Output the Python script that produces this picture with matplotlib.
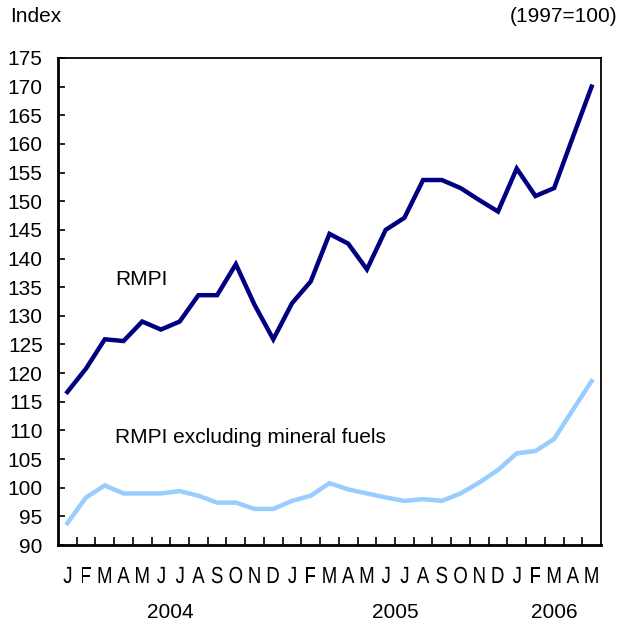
import matplotlib.pyplot as plt
import numpy as np
from matplotlib.textpath import TextPath
from matplotlib.patches import PathPatch
from matplotlib.font_manager import FontProperties
from matplotlib.transforms import Affine2D

plt.rcParams['font.family'] = ['Liberation Sans', 'DejaVu Sans']

months = ['J', 'F', 'M', 'A', 'M', 'J', 'J', 'A', 'S', 'O', 'N', 'D',
          'J', 'F', 'M', 'A', 'M', 'J', 'J', 'A', 'S', 'O', 'N', 'D',
          'J', 'F', 'M', 'A', 'M']
years = ['2004', '2005', '2006']
year_start = [0, 12, 24]
year_len = [12, 12, 5]

rmpi = [116.7, 120.8, 125.9, 125.6, 129.0, 127.6, 129.0, 133.6, 133.6, 139.0,
        131.9, 125.9, 132.2, 136.0, 144.3, 142.6, 138.1, 145.0, 147.1, 153.7,
        153.7, 152.3, 150.2, 148.2, 155.7, 150.9, 152.3, 161.2, 170.0]
rmpi_ex = [93.8, 98.3, 100.4, 99.0, 99.0, 99.0, 99.4, 98.6, 97.4, 97.4,
           96.3, 96.3, 97.7, 98.6, 100.8, 99.7, 99.0, 98.3, 97.7, 98.0,
           97.7, 99.0, 100.9, 103.1, 106.0, 106.4, 108.5, 113.6, 118.6]

fig = plt.figure(figsize=(6.22, 6.24), dpi=100)
ax = fig.add_axes([0.0932, 0.1266, 0.8730, 0.7805])

x = np.arange(len(months))
ax.plot(x, rmpi, color='#000080', lw=3.2, solid_joinstyle='miter')
ax.plot(x, rmpi_ex, color='#99ccff', lw=3.2, solid_joinstyle='miter')

ax.set_xlim(-0.5, len(months) - 0.5)
ax.set_ylim(90, 175)
ax.set_yticks(np.arange(90, 176, 5))
ax.tick_params(axis='y', direction='in', length=5, width=1.2, labelsize=15, pad=11)

# category boundaries as ticks
ax.set_xticks(np.arange(0.5, len(months) - 1, 1))
ax.set_xticklabels([])
ax.tick_params(axis='x', direction='in', length=6, width=1.2)

# month letters: narrow (horizontally squeezed) glyphs
prop = FontProperties(family='Liberation Sans')
ybase = fig.bbox.height - 575  # centre of letters, display px
for i, m in enumerate(months):
    tp = TextPath((0, 0), m, size=23.3, prop=prop)
    ext = tp.get_extents()
    cx = (ext.x0 + ext.x1) / 2
    cy = (ext.y0 + ext.y1) / 2
    px = ax.transData.transform((i, 90))[0]
    tr = Affine2D().translate(-cx, -cy).scale(0.8, 1).translate(px, ybase)
    fig.add_artist(PathPatch(tp, transform=tr, color='black', lw=0))

for y, s, n in zip(years, year_start, year_len):
    ax.text(s + (n - 1) / 2, -0.1376, y, transform=ax.get_xaxis_transform(),
            ha='center', va='center', fontsize=15)

for side in ['top', 'right']:
    ax.spines[side].set_linewidth(1.3)
for side in ['left', 'bottom']:
    ax.spines[side].set_linewidth(2)

ax.text(2.55, 136.3, 'RMPI', fontsize=15, va='center', ha='left')
ax.text(2.55, 108.7, 'RMPI excluding mineral fuels', fontsize=15, va='center', ha='left')

fig.text(10 / 622, 1 - 17 / 624, 'Index', fontsize=15, va='center', ha='left')
fig.text(617 / 622, 1 - 17 / 624, '(1997=100)', fontsize=15, va='center', ha='right')

fig.savefig('out.png', dpi=100)
